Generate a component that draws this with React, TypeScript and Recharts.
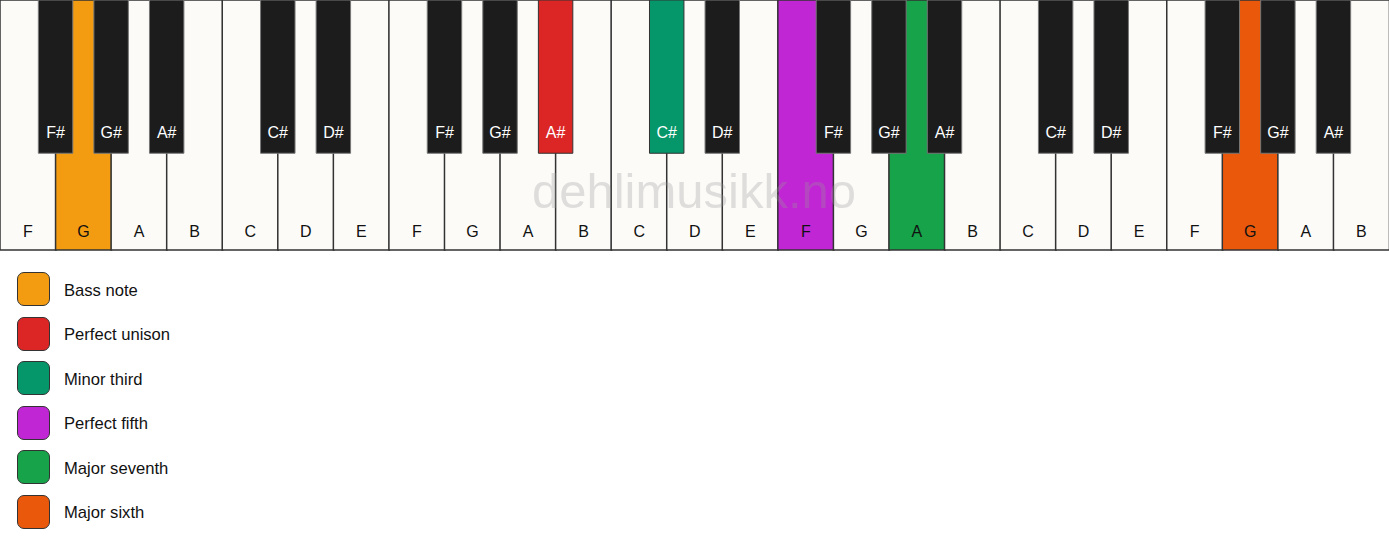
import { Bar, BarChart, Cell, LabelList, ReferenceArea, XAxis, YAxis } from "recharts";

const whiteNotes = [
  "F", "G", "A", "B", "C", "D", "E",
  "F", "G", "A", "B", "C", "D", "E",
  "F", "G", "A", "B", "C", "D", "E",
  "F", "G", "A", "B",
];

// black keys sit on the boundary between two white keys (boundary n = right edge of white key n-1)
const blackNotes = [
  "F#", "G#", "A#", "C#", "D#",
  "F#", "G#", "A#", "C#", "D#",
  "F#", "G#", "A#", "C#", "D#",
  "F#", "G#", "A#",
];
const blackBoundaries = [1, 2, 3, 5, 6, 8, 9, 10, 12, 13, 15, 16, 17, 19, 20, 22, 23, 24];

const intervalNames = ["Bass note", "Perfect unison", "Minor third", "Perfect fifth", "Major seventh", "Major sixth"];
const intervalColors = ["#f39c12", "#dc2626", "#059669", "#c026d3", "#16a34a", "#ea580c"];
// "w" + white key index, "b" + black key boundary
const intervalKeys = ["w1", "b10", "b12", "w14", "w16", "w22"];

const WHITE = "#fcfbf8";
const BLACK = "#1c1c1c";
const FONT = "'Liberation Sans', Arial, sans-serif";

const colorFor = (key: string, fallback: string) => {
  const i = intervalKeys.indexOf(key);
  return i >= 0 ? intervalColors[i] : fallback;
};

const whiteData = whiteNotes.map((note, i) => ({ note, pos: i + 0.5, height: 1 }));

export default function App() {
  return (
    <div style={{ position: "relative", width: 1389, height: 550, background: "#fff", fontFamily: FONT }}>
      <style>{"body{margin:0}"}</style>
      <BarChart
        width={1389}
        height={251}
        data={whiteData}
        margin={{ top: 0, right: 0, left: 0, bottom: 1 }}
        barCategoryGap={0}
        barGap={0}
        style={{ fontFamily: FONT }}
      >
        <XAxis dataKey="note" hide />
        <XAxis xAxisId="pos" dataKey="pos" type="number" domain={[0, 25]} allowDataOverflow hide />
        <YAxis hide domain={[0, 1]} />
        <Bar dataKey="height" stroke="#333" strokeWidth={1.5} isAnimationActive={false}>
          {whiteData.map((d, i) => (
            <Cell key={i} fill={colorFor(`w${i}`, WHITE)} />
          ))}
          <LabelList dataKey="note" position="insideBottom" offset={13} fill="#111" fontSize={16} />
        </Bar>
        {blackNotes.map((name, i) => {
          const b = blackBoundaries[i];
          return (
            <ReferenceArea
              key={`${name}-${b}`}
              xAxisId="pos"
              x1={b - 0.31}
              x2={b + 0.31}
              y1={0.387}
              y2={1}
              fill={colorFor(`b${b}`, BLACK)}
              fillOpacity={1}
              stroke={colorFor(`b${b}`, "") ? "#333" : "#777"}
              strokeWidth={1}
              zIndex={400}
              label={{ value: name, position: "insideBottom", offset: 15, fill: "#fff", fontSize: 16 }}
            />
          );
        })}
      </BarChart>

      <svg
        width={1389}
        height={251}
        style={{ position: "absolute", left: 0, top: 0, pointerEvents: "none" }}
      >
        <text x={694} y={208} textAnchor="middle" fontSize={49} fontFamily={FONT} fill="#999" fillOpacity={0.3}>
          dehlimusikk.no
        </text>
      </svg>

      <div style={{ position: "absolute", left: 16.5, top: 272 }}>
        {intervalNames.map((name, i) => (
          <div key={name} style={{ display: "flex", alignItems: "center", height: 34, marginBottom: 10.5 }}>
            <div
              style={{
                boxSizing: "border-box",
                width: 33.5,
                height: 34,
                borderRadius: 7,
                border: "1.5px solid #333",
                background: intervalColors[i],
              }}
            />
            <span style={{ marginLeft: 14, marginTop: 3, fontSize: 16.6, color: "#111" }}>{name}</span>
          </div>
        ))}
      </div>
    </div>
  );
}
